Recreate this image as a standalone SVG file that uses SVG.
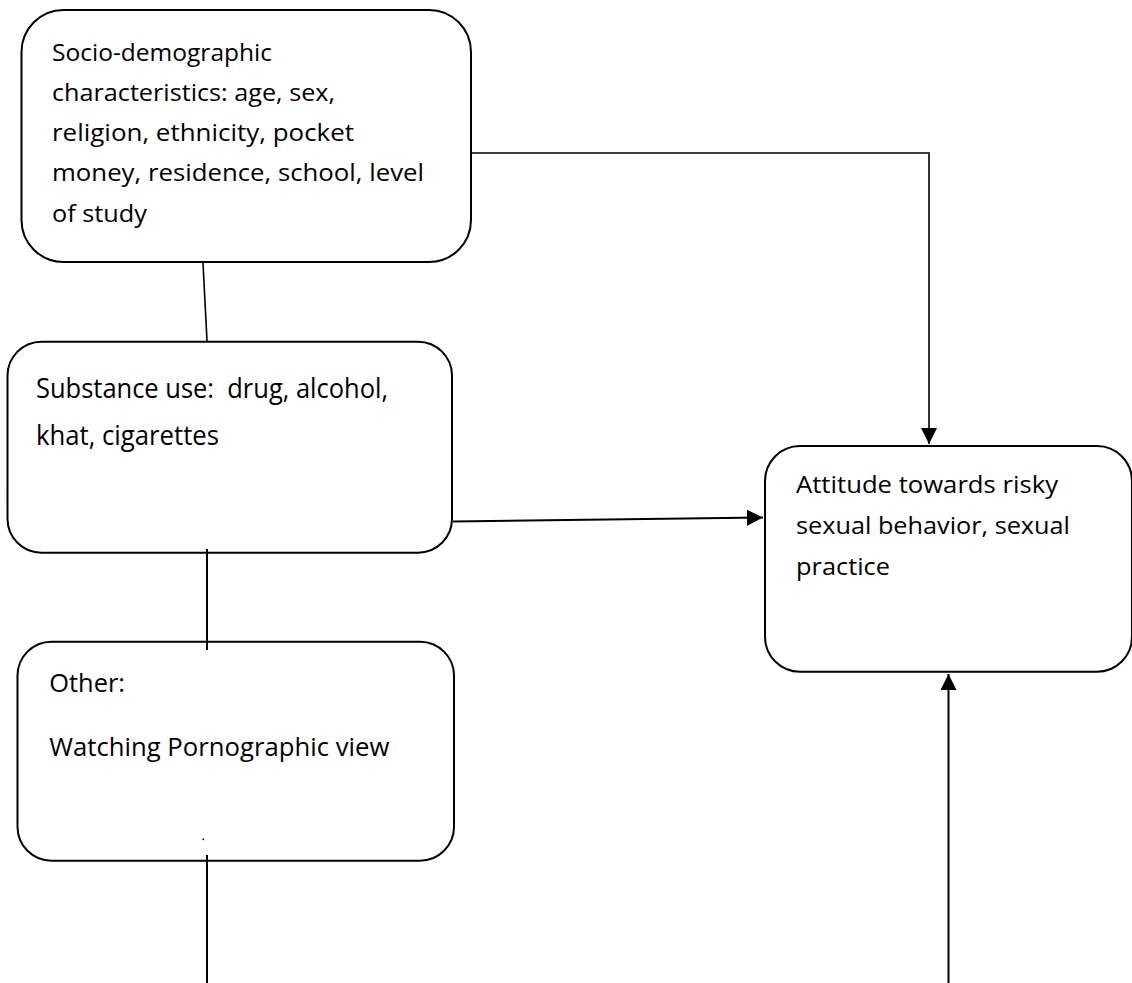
<svg xmlns="http://www.w3.org/2000/svg" width="1132" height="983" viewBox="0 0 1132 983">
<style>
.box{fill:#fff;stroke:#000;stroke-width:2}
.t{font-family:"Open Sans","Liberation Sans",sans-serif;fill:#000;white-space:pre}
.c{stroke:#000;stroke-width:2;fill:none}
.c1{stroke:#000;stroke-width:1.6;fill:none}
</style>
<defs>
<marker id="ah" markerUnits="userSpaceOnUse" markerWidth="18" markerHeight="18" refX="16" refY="8" orient="auto">
<path d="M0,0 L16,8 L0,16 z" fill="#000"/>
</marker>
</defs>
<g id="node-socio">
<rect class="box" x="21.5" y="10" width="449.5" height="252" rx="42"/>
<text class="t" font-size="23.5"><tspan x="52" y="61" textLength="220" lengthAdjust="spacingAndGlyphs">Socio-demographic</tspan><tspan x="52" y="101" textLength="283" lengthAdjust="spacingAndGlyphs">characteristics: age, sex,</tspan><tspan x="52" y="141" textLength="302" lengthAdjust="spacingAndGlyphs">religion, ethnicity, pocket</tspan><tspan x="52" y="181" textLength="372" lengthAdjust="spacingAndGlyphs">money, residence, school, level</tspan><tspan x="52" y="222" textLength="95" lengthAdjust="spacingAndGlyphs">of study</tspan></text>
</g>
<g id="node-substance">
<rect class="box" x="7.5" y="341.7" width="444.5" height="211" rx="34"/>
<text class="t" font-size="28"><tspan x="36" y="398.3" textLength="352" lengthAdjust="spacingAndGlyphs">Substance use:  drug, alcohol,</tspan><tspan x="36" y="445" textLength="183" lengthAdjust="spacingAndGlyphs">khat, cigarettes</tspan></text>
</g>
<g id="node-other">
<rect class="box" x="17.5" y="641.7" width="436.5" height="219" rx="34"/>
<text class="t" font-size="25"><tspan x="49.3" y="691.7" textLength="75.7" lengthAdjust="spacingAndGlyphs">Other:</tspan><tspan x="49.3" y="756" textLength="340" lengthAdjust="spacingAndGlyphs">Watching Pornographic view</tspan></text>
<circle cx="203.3" cy="839.3" r="0.9" fill="#000"/>
</g>
<g id="node-attitude">
<rect class="box" x="765" y="446" width="367" height="225.7" rx="35"/>
<text class="t" font-size="23.5"><tspan x="796" y="493.3" textLength="262" lengthAdjust="spacingAndGlyphs">Attitude towards risky</tspan><tspan x="796" y="534.3" textLength="274" lengthAdjust="spacingAndGlyphs">sexual behavior, sexual</tspan><tspan x="796" y="575" textLength="94" lengthAdjust="spacingAndGlyphs">practice</tspan></text>
</g>
<g id="connectors">
<path class="c1" d="M471,153 L929,153 L929,444" marker-end="url(#ah)"/>
<path class="c" d="M453,521.5 L763,517.5" marker-end="url(#ah)"/>
<path class="c1" d="M203,263 L207,341"/>
<path class="c" d="M207,549 L207,650"/>
<path class="c" d="M207,855 L207,983"/>
<path class="c" d="M948.5,983 L948.5,674" marker-end="url(#ah)"/>
</g>
</svg>
